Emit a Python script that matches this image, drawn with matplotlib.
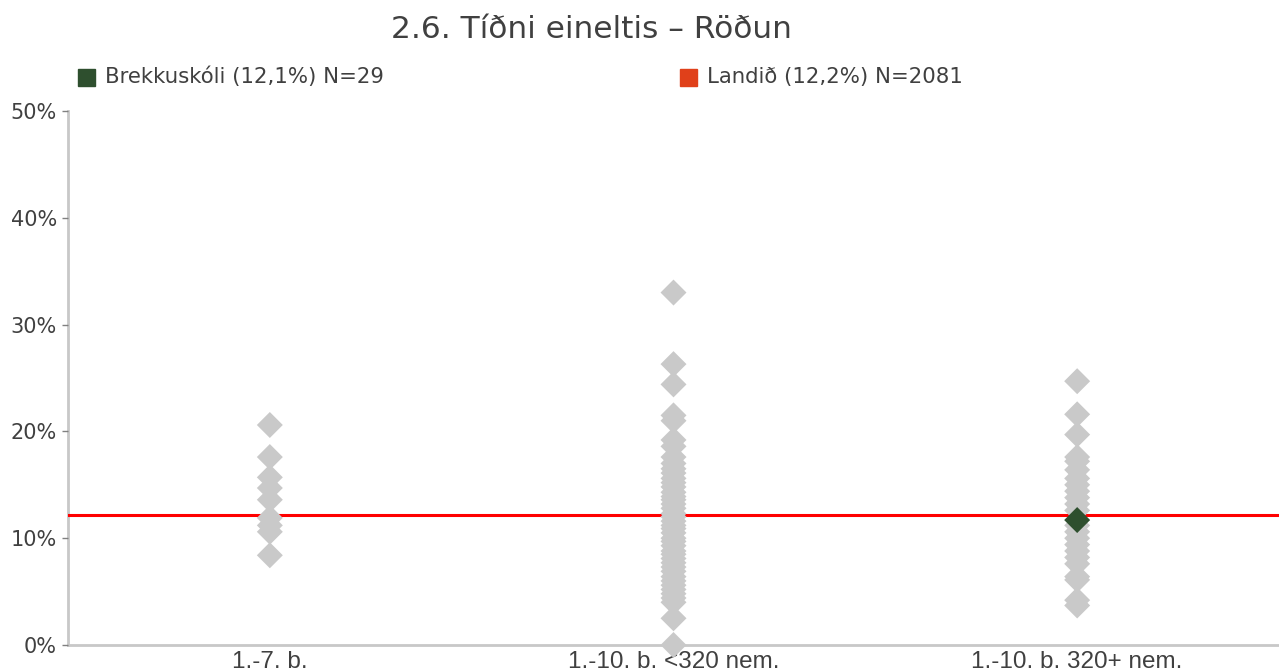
import matplotlib
matplotlib.use("Agg")
import matplotlib.pyplot as plt
from matplotlib.patches import Rectangle

title = "2.6. Tíðni eineltis – Röðun"
categories = ["1.-7. b.", "1.-10. b. <320 nem.", "1.-10. b. 320+ nem."]
yticks = [0, 10, 20, 30, 40, 50]
ytick_labels = ["0%", "10%", "20%", "30%", "40%", "50%"]

# other schools (percent) per category
cat1_values = [20.6, 17.6, 15.7, 14.7, 13.6, 11.9, 11.2, 10.6, 8.4]
cat2_values = [33.0, 26.3, 24.4, 21.5, 21.0, 19.2, 18.6, 17.6, 17.0, 16.5,
               16.1, 15.6, 15.2, 14.8, 14.3, 13.9, 13.6, 13.2, 12.8, 12.3,
               12.0, 11.6, 11.2, 10.9, 10.5, 10.0, 9.7, 9.3, 8.8, 8.5,
               8.1, 7.7, 7.3, 6.9, 6.4, 6.0, 5.6, 5.2, 4.8, 4.4, 4.0, 2.5, 0.0]
cat3_values = [24.7, 21.6, 19.7, 17.6, 17.2, 16.4, 15.6, 15.0, 14.4, 13.8,
               13.2, 12.6, 11.2, 10.6, 10.0, 9.4, 8.8, 8.2, 7.6, 6.4,
               6.1, 4.2, 3.7]
school_category = 2
school_value = 11.7
national_value = 12.2

legend_school = "Brekkuskóli (12,1%) N=29"
legend_national = "Landið (12,2%) N=2081"

GREY = "#C9C9C9"
GREEN = "#2E4F2E"
RED_LINE = "#FF0000"
RED_SQ = "#E0401A"
TXT = "#404040"
AX = "#C8C8C8"

plt.rcParams['font.family'] = ['DejaVu Sans']

W, H = 1279, 672
fig = plt.figure(figsize=(W / 100, H / 100), dpi=100)
ax = fig.add_axes([68 / W, (H - 645) / H, 1 - 68 / W, (645 - 111) / H])

ax.axhline(national_value, color=RED_LINE, lw=2.2, zorder=1)

for i, vals in enumerate([cat1_values, cat2_values, cat3_values]):
    ax.scatter([i] * len(vals), vals, marker='D', s=175, color=GREY,
               edgecolors='none', zorder=2, clip_on=False)
ax.scatter([school_category], [school_value], marker='D', s=175, color=GREEN,
           edgecolors='none', zorder=3, clip_on=False)

ax.set_xlim(-0.5, 2.5)
ax.set_ylim(0, 50)
ax.set_yticks(yticks)
ax.set_yticklabels(ytick_labels)
ax.set_xticks(range(len(categories)))
ax.set_xticklabels(categories, family=['Liberation Sans', 'DejaVu Sans'])

for s in ['top', 'right']:
    ax.spines[s].set_visible(False)
for s in ['left', 'bottom']:
    ax.spines[s].set_color(AX)
    ax.spines[s].set_linewidth(2)
    ax.spines[s].set_zorder(0.5)

ax.tick_params(axis='y', length=4, width=1, color='#808080', pad=4,
               labelsize=15, labelcolor=TXT)
ax.tick_params(axis='x', length=0, pad=4, labelsize=17.5, labelcolor=TXT)

fig.text(591 / W, 1 - 30 / H, title, ha='center', va='center',
         fontsize=22.5, color=TXT)

# legend
fig.add_artist(Rectangle((78 / W, 1 - 86 / H), 17 / W, 17 / H,
                         transform=fig.transFigure, color=GREEN))
fig.text(105 / W, 1 - 77 / H, legend_school, ha='left', va='center',
         fontsize=15.3, color=TXT)
fig.add_artist(Rectangle((680 / W, 1 - 86 / H), 17 / W, 17 / H,
                         transform=fig.transFigure, color=RED_SQ))
fig.text(707 / W, 1 - 77 / H, legend_national, ha='left', va='center',
         fontsize=15.3, color=TXT)

fig.savefig("out.png", dpi=100)
